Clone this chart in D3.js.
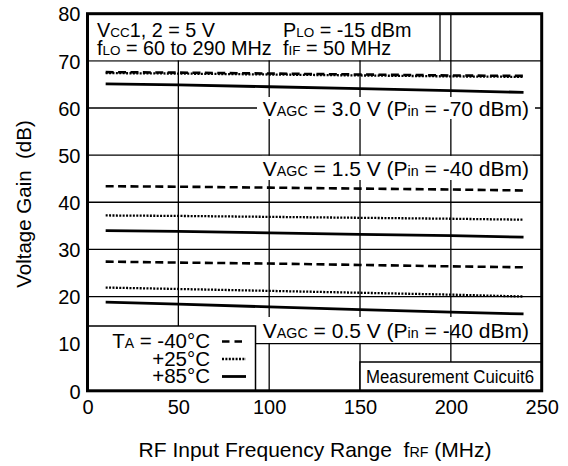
<!DOCTYPE html>
<html>
<head>
<meta charset="utf-8">
<script src="https://cdn.jsdelivr.net/npm/d3@7"></script>
<style>
  html, body { margin: 0; padding: 0; background: #fff; }
  svg { display: block; font-family: "Liberation Sans", Arial, Helvetica, sans-serif; }
</style>
</head>
<body>
<svg id="chart" width="568" height="466"></svg>
<script>
// RF input frequency (MHz) at which gain was sampled
const freq = [10, 50, 100, 150, 200, 240];

// Voltage gain (dB), VAGC = 3.0 V (Pin = -70 dBm)
const agc30_m40 = [67.6, 67.5, 67.3, 67.1, 66.9, 66.8];
const agc30_p25 = [67.4, 67.3, 67.1, 66.9, 66.7, 66.6];
const agc30_p85 = [65.1, 64.9, 64.5, 64.1, 63.7, 63.3];

// Voltage gain (dB), VAGC = 1.5 V (Pin = -40 dBm)
const agc15_m40 = [43.4, 43.3, 43.1, 42.9, 42.7, 42.5];
const agc15_p25 = [37.2, 37.1, 36.9, 36.7, 36.5, 36.3];
const agc15_p85 = [34.0, 33.8, 33.5, 33.2, 32.9, 32.6];

// Voltage gain (dB), VAGC = 0.5 V (Pin = -40 dBm)
const agc05_m40 = [27.4, 27.2, 27.0, 26.7, 26.4, 26.2];
const agc05_p25 = [21.9, 21.6, 21.2, 20.8, 20.4, 20.0];
const agc05_p85 = [18.8, 18.4, 17.8, 17.2, 16.7, 16.3];

const xTicks = [0, 50, 100, 150, 200, 250];
const yTicks = [0, 10, 20, 30, 40, 50, 60, 70, 80];
const tempLabels = ["-40°C", "+25°C", "+85°C"];

const series = [
  { temp: 0, values: agc30_m40 }, { temp: 1, values: agc30_p25 }, { temp: 2, values: agc30_p85 },
  { temp: 0, values: agc15_m40 }, { temp: 1, values: agc15_p25 }, { temp: 2, values: agc15_p85 },
  { temp: 0, values: agc05_m40 }, { temp: 1, values: agc05_p25 }, { temp: 2, values: agc05_p85 }
];

// stroke style per temperature: dashed, dotted, solid
const styles = [
  { width: 2.6, dash: "8,4.4" },
  { width: 2.3, dash: "2,1.4" },
  { width: 2.8, dash: null }
];

const svg = d3.select("#chart");
const L = 87.5, R = 541.7, T = 13.7, B = 390.8;
const x = d3.scaleLinear().domain([0, 250]).range([L, R]);
const y = d3.scaleLinear().domain([0, 80]).range([B, T]);

// grid
const grid = svg.append("g").attr("stroke", "#000").attr("stroke-width", 1.3);
grid.selectAll("line.h").data(yTicks.filter(v => v > 0 && v < 80)).join("line")
  .attr("class", "h").attr("x1", L).attr("x2", R).attr("y1", d => y(d)).attr("y2", d => y(d));
grid.selectAll("line.v").data(xTicks.filter(v => v > 0 && v < 250)).join("line")
  .attr("class", "v").attr("x1", d => x(d)).attr("x2", d => x(d)).attr("y1", T).attr("y2", B);

// white panels that interrupt the grid
const blank = svg.append("g").attr("fill", "#fff").attr("stroke", "none");
blank.append("rect").attr("x", L).attr("y", T).attr("width", 440 - L).attr("height", y(70) - T - 0.7);
blank.append("rect").attr("x", 257).attr("y", 97).attr("width", 535 - 257).attr("height", 22);
blank.append("rect").attr("x", 262).attr("y", y(50) + 0.8).attr("width", 533 - 262).attr("height", 180 - y(50) - 0.8);
blank.append("rect").attr("x", 256).attr("y", 317).attr("width", 536 - 256).attr("height", y(10) - 317 - 0.7);

// header divider and the 200 MHz grid line running through the lower label
svg.append("line").attr("x1", 440).attr("x2", 440).attr("y1", T).attr("y2", y(70))
  .attr("stroke", "#000").attr("stroke-width", 1.3);
svg.append("line").attr("x1", x(200)).attr("x2", x(200)).attr("y1", 325).attr("y2", y(10))
  .attr("stroke", "#000").attr("stroke-width", 1.3);

// curves
const line = d3.line().x((d, i) => x(freq[i])).y(d => y(d));
svg.append("g").attr("fill", "none").attr("stroke", "#000")
  .selectAll("path").data(series).join("path")
  .attr("d", d => line(d.values))
  .attr("stroke-width", d => styles[d.temp].width)
  .attr("stroke-dasharray", d => styles[d.temp].dash);

// legend box
const lg = svg.append("g");
lg.append("rect").attr("x", L).attr("y", 326).attr("width", 255.5 - L).attr("height", B - 326)
  .attr("fill", "#fff").attr("stroke", "#000").attr("stroke-width", 1.5);
const lgRows = [348, 365.5, 383];
tempLabels.forEach((t, i) => {
  const tx = lg.append("text").attr("x", 210).attr("y", lgRows[i]).attr("text-anchor", "end")
    .attr("font-size", 20.5);
  if (i === 0) {
    tx.append("tspan").text("T");
    tx.append("tspan").attr("font-size", 14).text("A");
    tx.append("tspan").text(" = " + t);
  } else {
    tx.text(t);
  }
  lg.append("line").attr("x1", 222).attr("x2", 246)
    .attr("y1", lgRows[i] - 6.5).attr("y2", lgRows[i] - 6.5)
    .attr("stroke", "#000").attr("stroke-width", styles[i].width)
    .attr("stroke-dasharray", i === 0 ? "7.5,5" : styles[i].dash);
});

// measurement circuit box
svg.append("rect").attr("x", x(150)).attr("y", 362).attr("width", R - x(150)).attr("height", B - 362)
  .attr("fill", "#fff").attr("stroke", "#000").attr("stroke-width", 1.5);
svg.append("text").attr("x", 366).attr("y", 383).attr("font-size", 18)
  .attr("textLength", 168).attr("lengthAdjust", "spacingAndGlyphs")
  .text("Measurement Cuicuit6");

// rich text helper: parts of [text, isSmall]
function rich(xp, yp, size, parts, anchor) {
  const t = svg.append("text").attr("x", xp).attr("y", yp).attr("font-size", size)
    .attr("text-anchor", anchor || "start").attr("xml:space", "preserve");
  parts.forEach(p => {
    const s = t.append("tspan").text(p[0]);
    if (p[1]) s.attr("font-size", size * 0.68);
  });
  return t;
}

// conditions header
rich(97, 36.5, 19.8, [["V"], ["CC", 1], ["1, 2 = 5 V"]]);
rich(97, 55, 19.8, [["f"], ["LO", 1], [" = 60 to 290 MHz"]]);
rich(283, 36.5, 19.8, [["P"], ["LO", 1], [" = -15 dBm"]]);
rich(283, 55, 19.8, [["f"], ["IF", 1], [" = 50 MHz"]]);

// curve group labels
rich(529, 116, 21, [["V"], ["AGC", 1], [" = 3.0 V (P"], ["in", 1], [" = -70 dBm)"]], "end");
rich(529, 176, 21, [["V"], ["AGC", 1], [" = 1.5 V (P"], ["in", 1], [" = -40 dBm)"]], "end");
rich(529, 337.5, 21, [["V"], ["AGC", 1], [" = 0.5 V (P"], ["in", 1], [" = -40 dBm)"]], "end");

// axes (labels only)
const ax = svg.append("g").attr("transform", `translate(0,${B})`)
  .call(d3.axisBottom(x).tickValues(xTicks).tickSize(0).tickPadding(9).tickFormat(d3.format("d")));
const ay = svg.append("g").attr("transform", `translate(${L},0)`)
  .call(d3.axisLeft(y).tickValues(yTicks).tickSize(0).tickPadding(7).tickFormat(d3.format("d")));
[ax, ay].forEach(a => {
  a.select(".domain").remove();
  a.selectAll("text").attr("font-size", 20).attr("fill", "#000")
    .attr("font-family", "'Liberation Sans', Arial, Helvetica, sans-serif");
});
ax.selectAll("text").attr("dy", "0.71em");
ay.selectAll("text").attr("dy", "0.36em");

// frame
svg.append("rect").attr("x", L).attr("y", T).attr("width", R - L).attr("height", B - T)
  .attr("fill", "none").attr("stroke", "#000").attr("stroke-width", 3);

// axis titles
rich(315, 457, 21, [["RF Input Frequency Range  f"], ["RF", 1], [" (MHz)"]], "middle");
svg.append("text").attr("transform", "translate(31,204) rotate(-90)").attr("text-anchor", "middle")
  .attr("font-size", 20.5).attr("xml:space", "preserve").text("Voltage Gain  (dB)");
</script>
</body>
</html>
